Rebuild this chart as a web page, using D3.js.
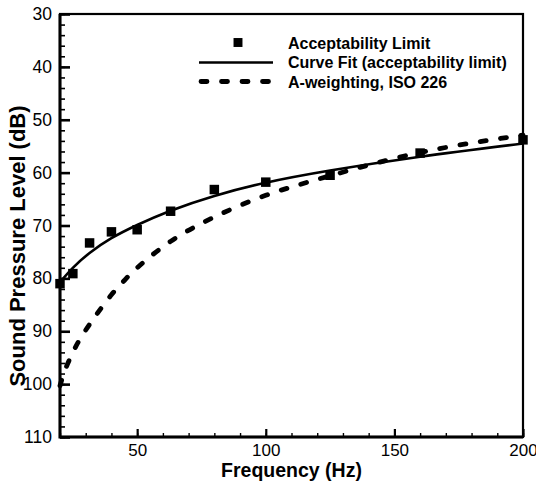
<!DOCTYPE html>
<html>
<head>
<meta charset="utf-8">
<script src="https://cdn.jsdelivr.net/npm/d3@7"></script>
<style>
  body { margin: 0; background: #fff; }
  text { font-family: "Liberation Sans", Arial, sans-serif; fill: #000; }
</style>
</head>
<body>
<div id="graph-container"></div>
<script>
// acceptability limit (measured squares)
const limitFreq = [20, 25, 31.5, 40, 50, 63, 80, 100, 125, 160, 200];
const limitSpl = [81.0, 79.1, 73.3, 71.2, 70.8, 67.3, 63.2, 61.8, 60.5, 56.3, 53.8];

// curve fit
const fitFreq = [20, 25, 31.5, 40, 50, 63, 80, 100, 125, 160, 200];
const fitSpl = [80.7, 78.0, 75.2, 72.4, 69.9, 67.2, 64.4, 61.9, 59.6, 57.0, 54.5];

// A-weighting, ISO 226
const aFreq = [20, 22, 25, 28, 31.5, 35, 40, 45, 50, 63, 80, 100, 125, 160, 200];
const aSpl = [100.3, 97.3, 94.0, 91.3, 88.7, 86.3, 83.1, 80.4, 78.0, 73.0, 68.4, 64.3, 60.6, 56.2, 52.9];

const yTicks = [30, 40, 50, 60, 70, 80, 90, 100, 110];
const xTicks = [50, 100, 150, 200];

const legendLabels = ["Acceptability Limit", "Curve Fit (acceptability limit)", "A-weighting, ISO 226"];

const width = 536;
const height = 482;
const margin = { top: 14, right: 13, bottom: 45, left: 60 };

const svg = d3
  .select("#graph-container")
  .append("svg")
  .attr("width", width)
  .attr("height", height);

const x = d3.scaleLinear().domain([20, 200]).range([margin.left, width - margin.right]);
const y = d3.scaleLinear().domain([30, 110]).range([margin.top, height - margin.bottom]);

//minor ticks
svg
  .append("g")
  .attr("transform", `translate(${margin.left},0)`)
  .call(d3.axisLeft(y).tickValues(d3.range(30, 111, 2)).tickSize(-5).tickFormat(""))
  .call((g) => g.select(".domain").remove())
  .selectAll("line")
  .attr("stroke-width", 1.6);

svg
  .append("g")
  .attr("transform", `translate(0,${height - margin.bottom})`)
  .call(d3.axisBottom(x).tickValues(d3.range(20, 201, 10)).tickSize(-4).tickFormat(""))
  .call((g) => g.select(".domain").remove())
  .selectAll("line")
  .attr("stroke-width", 1.4);

//major ticks + labels
const yAxis = svg
  .append("g")
  .attr("transform", `translate(${margin.left},0)`)
  .call(d3.axisLeft(y).tickValues(yTicks).tickSize(-10).tickPadding(8));
yAxis.select(".domain").remove();
yAxis.selectAll("line").attr("stroke-width", 2.6);
yAxis.selectAll("text").attr("font-size", 17.5).attr("font-family", "Liberation Sans, Arial, sans-serif");

const xAxis = svg
  .append("g")
  .attr("transform", `translate(0,${height - margin.bottom})`)
  .call(d3.axisBottom(x).tickValues(xTicks).tickSize(-8).tickPadding(7));
xAxis.select(".domain").remove();
xAxis.selectAll("line").attr("stroke-width", 2.2);
xAxis.selectAll("text").attr("font-size", 17).attr("font-family", "Liberation Sans, Arial, sans-serif");

//frame
svg
  .append("rect")
  .attr("x", margin.left)
  .attr("y", margin.top)
  .attr("width", width - margin.left - margin.right)
  .attr("height", height - margin.top - margin.bottom)
  .attr("fill", "none")
  .attr("stroke", "#000")
  .attr("stroke-width", 2.2);

svg
  .append("path")
  .attr("d", `M${margin.left},${margin.top}V${height - margin.bottom}H${width - margin.right}`)
  .attr("fill", "none")
  .attr("stroke", "#000")
  .attr("stroke-width", 3);

//curves
const line = d3
  .line()
  .x((d) => x(d[0]))
  .y((d) => y(d[1]))
  .curve(d3.curveNatural);

svg
  .append("path")
  .datum(d3.zip(aFreq, aSpl))
  .attr("d", line)
  .attr("fill", "none")
  .attr("stroke", "#000")
  .attr("stroke-width", 4.8)
  .attr("stroke-linecap", "round")
  .attr("stroke-dasharray", "6,14.5");

svg
  .append("path")
  .datum(d3.zip(fitFreq, fitSpl))
  .attr("d", line)
  .attr("fill", "none")
  .attr("stroke", "#000")
  .attr("stroke-width", 2.6);

svg
  .selectAll("path.pt")
  .data(d3.zip(limitFreq, limitSpl))
  .enter()
  .append("path")
  .attr("class", "pt")
  .attr("d", d3.symbol(d3.symbolSquare).size(90))
  .attr("transform", (d) => `translate(${x(d[0])},${y(d[1])})`)
  .attr("fill", "#000");

//legend
const legend = svg.append("g");
legend
  .append("path")
  .attr("d", d3.symbol(d3.symbolSquare).size(80))
  .attr("transform", "translate(238,42.5)");
legend
  .append("line")
  .attr("x1", 199)
  .attr("x2", 273)
  .attr("y1", 62.5)
  .attr("y2", 62.5)
  .attr("stroke", "#000")
  .attr("stroke-width", 2.4);
legend
  .append("line")
  .attr("x1", 201)
  .attr("x2", 273)
  .attr("y1", 81.5)
  .attr("y2", 81.5)
  .attr("stroke", "#000")
  .attr("stroke-width", 4.8)
  .attr("stroke-linecap", "round")
  .attr("stroke-dasharray", "6,14.5");
legend
  .selectAll("text")
  .data(legendLabels)
  .enter()
  .append("text")
  .attr("x", 288)
  .attr("y", (d, i) => 48.5 + i * 19.5)
  .attr("font-size", 16)
  .attr("font-weight", "bold")
  .text((d) => d);

//axis titles
svg
  .append("text")
  .attr("x", (margin.left + width - margin.right) / 2)
  .attr("y", 477)
  .attr("text-anchor", "middle")
  .attr("font-size", 19.5)
  .attr("font-weight", "bold")
  .text("Frequency (Hz)");

svg
  .append("text")
  .attr("transform", "translate(25,246) rotate(-90)")
  .attr("text-anchor", "middle")
  .attr("font-size", 22)
  .attr("font-weight", "bold")
  .text("Sound Pressure Level (dB)");
</script>
</body>
</html>
